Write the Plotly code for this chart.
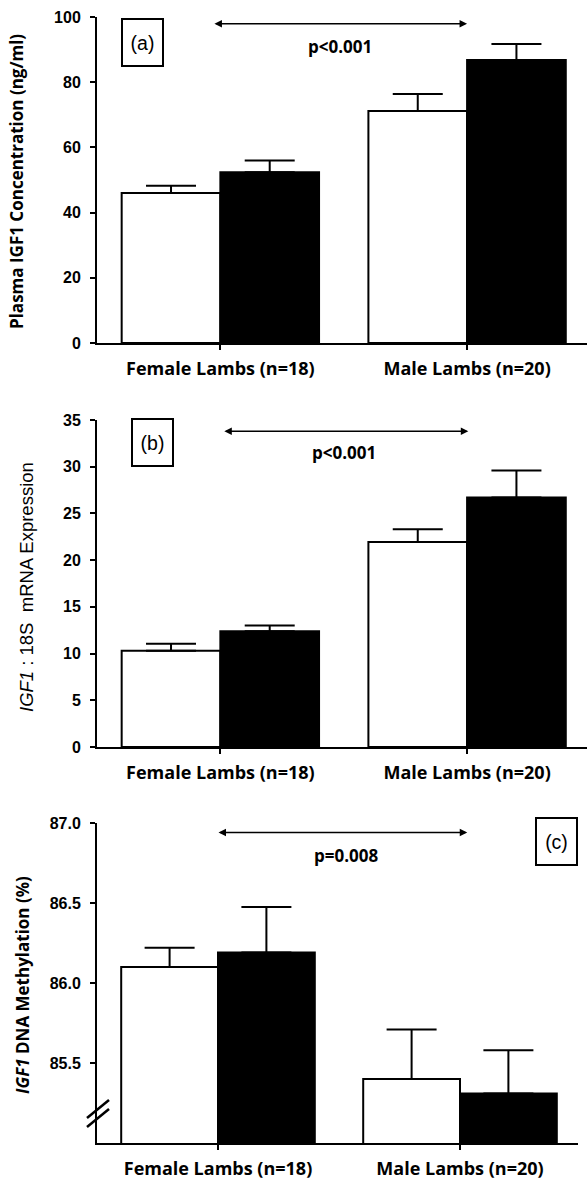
import plotly.graph_objects as go

categories = ["Female Lambs (n=18)", "Male Lambs (n=20)"]

# Panel (a): Plasma IGF1 concentration (ng/ml)
a_white = [46.0, 71.2]
a_white_err = [2.2, 5.2]
a_black = [52.4, 86.8]
a_black_err = [3.6, 4.9]

# Panel (b): IGF1 : 18S mRNA expression
b_white = [10.3, 21.95]
b_white_err = [0.75, 1.35]
b_black = [12.4, 26.7]
b_black_err = [0.6, 2.9]

# Panel (c): IGF1 DNA methylation (%)
c_white = [86.1, 85.4]
c_white_err = [0.12, 0.31]
c_black = [86.19, 85.31]
c_black_err = [0.285, 0.27]

W, H = 587, 1179
L = 97
PW = W - L


def px_x(px):
    return (px - L) / PW


def px_y(py):
    return 1 - py / H


fig = go.Figure()

panels = [
    ("", a_white, a_white_err, a_black, a_black_err),
    ("2", b_white, b_white_err, b_black, b_black_err),
    ("3", c_white, c_white_err, c_black, c_black_err),
]

for suf, wv, we, bv, be in panels:
    fig.add_trace(go.Bar(
        x=categories, y=wv, xaxis="x" + suf, yaxis="y" + suf,
        marker=dict(color="white", line=dict(color="black", width=2)),
        error_y=dict(type="data", array=we, arrayminus=[0] * len(we), symmetric=False,
                     color="black", thickness=2, width=25),
        offsetgroup="w", showlegend=False,
    ))
    fig.add_trace(go.Bar(
        x=categories, y=bv, xaxis="x" + suf, yaxis="y" + suf,
        marker=dict(color="black", line=dict(color="black", width=2)),
        error_y=dict(type="data", array=be, arrayminus=[0] * len(be), symmetric=False,
                     color="black", thickness=2, width=25),
        offsetgroup="b", showlegend=False,
    ))

catfont = dict(family="Open Sans", size=18, color="black", weight="bold")
tickfont = dict(family="Liberation Sans", size=16, color="black", weight="bold")

xcommon = dict(type="category", showline=True, linecolor="black", linewidth=2,
               ticks="outside", ticklen=5, tickwidth=2, tickcolor="black",
               showgrid=False, zeroline=False, tickfont=catfont, automargin=False,
               ticklabelstandoff=3)
ycommon = dict(showline=True, linecolor="black", linewidth=2,
               ticks="outside", ticklen=5, tickwidth=2, tickcolor="black",
               showgrid=False, zeroline=False, tickfont=tickfont, automargin=False,
               ticklabelstandoff=6)

fig.update_layout(
    width=W, height=H,
    margin=dict(l=L, r=0, t=0, b=0),
    paper_bgcolor="white", plot_bgcolor="white",
    barmode="group", bargap=0.2, bargroupgap=0,
    xaxis=dict(xcommon, domain=[0, 1], range=[-0.5, 1.486], anchor="y"),
    yaxis=dict(ycommon, domain=[px_y(343), px_y(17)], range=[0, 100],
               tickvals=[0, 20, 40, 60, 80, 100], anchor="x"),
    xaxis2=dict(xcommon, domain=[0, 1], range=[-0.5, 1.486], anchor="y2"),
    yaxis2=dict(ycommon, domain=[px_y(747), px_y(420)], range=[0, 35],
                tickvals=[0, 5, 10, 15, 20, 25, 30, 35], anchor="x2"),
    xaxis3=dict(xcommon, domain=[0, px_x(578)], range=[-0.5, 1.4876], anchor="y3"),
    yaxis3=dict(ycommon, domain=[px_y(1143), px_y(823)], range=[85.0, 87.0],
                tickvals=[85.5, 86.0, 86.5, 87.0], ticktext=["85.5", "86.0", "86.5", "87.0"],
                anchor="x3"),
)

ann = []
# Y axis titles
ann.append(dict(text="Plasma IGF1 Concentration (ng/ml)", x=px_x(17), y=px_y(182),
                xref="paper", yref="paper", xanchor="center", yanchor="middle",
                textangle=-90, showarrow=False,
                font=dict(family="Open Sans", size=17, color="black", weight="bold")))
ann.append(dict(text="<i>IGF1</i> : 18S\u00a0 mRNA Expression", x=px_x(26), y=px_y(587),
                xref="paper", yref="paper", xanchor="center", yanchor="middle",
                textangle=-90, showarrow=False,
                font=dict(family="Liberation Sans", size=18.5, color="black")))
ann.append(dict(text="<i>IGF1</i> DNA Methylation (%)", x=px_x(22), y=px_y(985),
                xref="paper", yref="paper", xanchor="center", yanchor="middle",
                textangle=-90, showarrow=False,
                font=dict(family="Open Sans", size=17, color="black", weight="bold")))

# Double-headed arrows and p values
arrows = [
    ("x", "y", -0.03, 1.0, 97.9, 0.486, 90.8, "p<0.001"),
    ("x2", "y2", 0.01, 1.005, 33.8, 0.50, 31.5, "p<0.001"),
    ("x3", "y3", -0.004, 1.03, 86.94, 0.53, 86.8, "p=0.008"),
]
for xr, yr, x0, x1, ya, xt, yt, txt in arrows:
    ann.append(dict(x=x1, y=ya, ax=x0, ay=ya, xref=xr, yref=yr, axref=xr, ayref=yr,
                    text="", showarrow=True, arrowhead=2, startarrowhead=2,
                    arrowside="end+start", arrowsize=1, arrowwidth=1.5,
                    arrowcolor="black"))
    ann.append(dict(x=xt, y=yt, xref=xr, yref=yr, text=txt, showarrow=False,
                    xanchor="center", yanchor="middle",
                    font=dict(family="Open Sans", size=17, color="black", weight="bold")))

# Boxed panel labels
for txt, cx, cy in [("(a)", 142.5, 42.5), ("(b)", 152, 442.5), ("(c)", 556.5, 841)]:
    ann.append(dict(text=txt, x=px_x(cx), y=px_y(cy), xref="paper", yref="paper",
                    xanchor="center", yanchor="middle",
                    showarrow=False, width=39, height=45, bordercolor="black",
                    borderwidth=2, borderpad=0, bgcolor="white",
                    font=dict(family="Liberation Sans", size=19.5, color="black")))

fig.update_layout(annotations=ann)

# Axis break marks on panel (c)
for dy in (0, 9):
    fig.add_shape(type="line", xref="paper", yref="paper",
                  x0=px_x(87), y0=px_y(1118 + dy), x1=px_x(109), y1=px_y(1100 + dy),
                  line=dict(color="black", width=2.5))

fig.write_html("out.html", config={"displayModeBar": False},
               post_script="document.body.style.margin='0';document.body.style.overflow='hidden';")
